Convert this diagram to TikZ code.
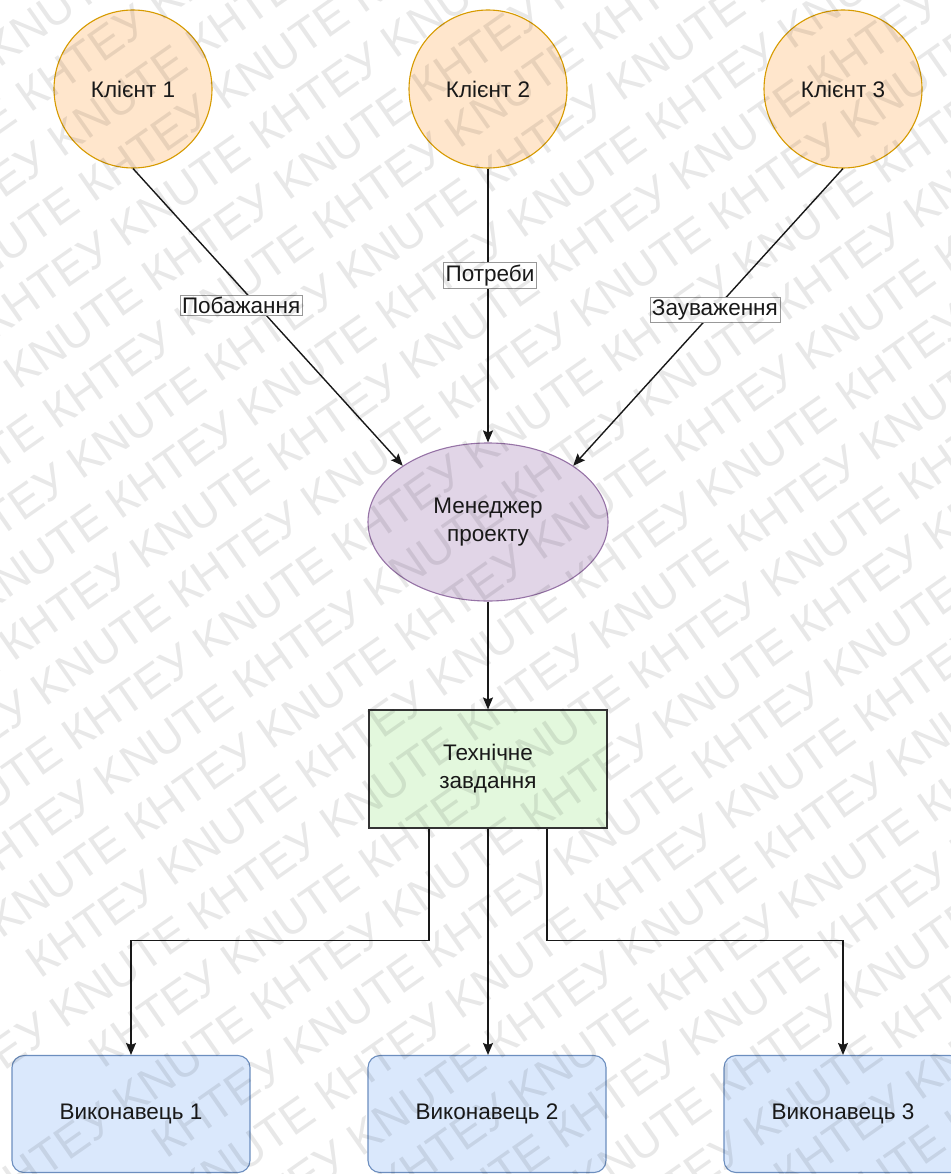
\documentclass[tikz,border=0pt]{standalone}
\usepackage{fontspec}
\setmainfont{Liberation Sans}
\usetikzlibrary{shapes.geometric,arrows.meta,calc}

\definecolor{clientfill}{HTML}{FFE6CC}
\definecolor{clientline}{HTML}{D79B00}
\definecolor{mgrfill}{HTML}{E1D5E7}
\definecolor{mgrline}{HTML}{9673A6}
\definecolor{specfill}{HTML}{E3F8DD}
\definecolor{specline}{HTML}{333333}
\definecolor{execfill}{HTML}{DAE8FC}
\definecolor{execline}{HTML}{6C8EBF}

\tikzset{
  base/.style={font=\fontsize{22.5}{28}\selectfont, text=black!90, align=center, line width=1.1pt},
  client/.style={base, circle, draw=clientline, fill=clientfill, minimum size=158pt, inner sep=0pt},
  manager/.style={base, ellipse, draw=mgrline, fill=mgrfill, minimum width=240pt, minimum height=158pt, inner sep=0pt},
  spec/.style={base, rectangle, draw=specline, fill=specfill, minimum width=238pt, minimum height=118pt},
  executor/.style={base, rectangle, rounded corners=12pt, draw=execline, fill=execfill, minimum width=238pt, minimum height=117pt},
  link/.style={line width=1.4pt, draw=black!90, -{Stealth[length=12pt, width=10pt, inset=2pt]}},
  tag/.style={font=\fontsize{22.5}{26}\selectfont, fill=white, draw=black!40, line width=0.6pt, inner sep=2pt, text=black!90},
  wmtext/.style={font=\fontsize{46}{46}\selectfont, text=black, text opacity=0.09, rotate=35, anchor=base west, inner sep=0pt}
}

\begin{document}
\begin{tikzpicture}[x=1pt,y=-1pt]
  \useasboundingbox (0,0) rectangle (950,1174);
  \fill[white] (0,0) rectangle (950,1174);

  % clients
  \node[client] (c1) at (133,89) {Клієнт 1};
  \node[client] (c2) at (488,89) {Клієнт 2};
  \node[client] (c3) at (843,89) {Клієнт 3};

  % project manager
  \node[manager] (mgr) at (488,522) {Менеджер\\проекту};

  % specification
  \node[spec] (tz) at (488,769) {Технічне\\завдання};

  % executors
  \node[executor] (e1) at (131,1114) {Виконавець 1};
  \node[executor] (e2) at (487,1114) {Виконавець 2};
  \node[executor] (e3) at (843,1114) {Виконавець 3};

  % client requests
  \draw[link] (c1.south) -- node[tag, pos=0.46, xshift=-16pt] (l1) {Побажання} (mgr.north west);
  \draw[link] (c2.south) -- node[tag, pos=0.39, xshift=2pt] (l2) {Потреби} (mgr.north);
  \draw[link] (c3.south) -- node[tag, pos=0.475] (l3) {Зауваження} (mgr.north east);

  % manager to specification
  \draw[link] (mgr.south) -- (tz.north);

  % specification to executors
  \draw[link] ([xshift=-59pt]tz.south) -- ++(0,112) -| (e1.north);
  \draw[link] (tz.south) -- (e2.north -| tz.south);
  \draw[link] ([xshift=59pt]tz.south) -- ++(0,112) -| (e3.north);

  % background watermark
  \begin{scope}
    \clip (0,0) rectangle (950,1174);
    \foreach \i in {0,...,28} {
      \pgfmathsetmacro{\sx}{31.6*\i - 573 + 0.819*mod(\i,2)*170}
      \pgfmathsetmacro{\sy}{45.0*\i + 402 - 0.574*mod(\i,2)*170}
      \node[wmtext] at (\sx,\sy) {КНТЕУ KNUTE КНТЕУ KNUTE КНТЕУ KNUTE КНТЕУ KNUTE КНТЕУ KNUTE};
    }
  \end{scope}
\end{tikzpicture}
\end{document}
